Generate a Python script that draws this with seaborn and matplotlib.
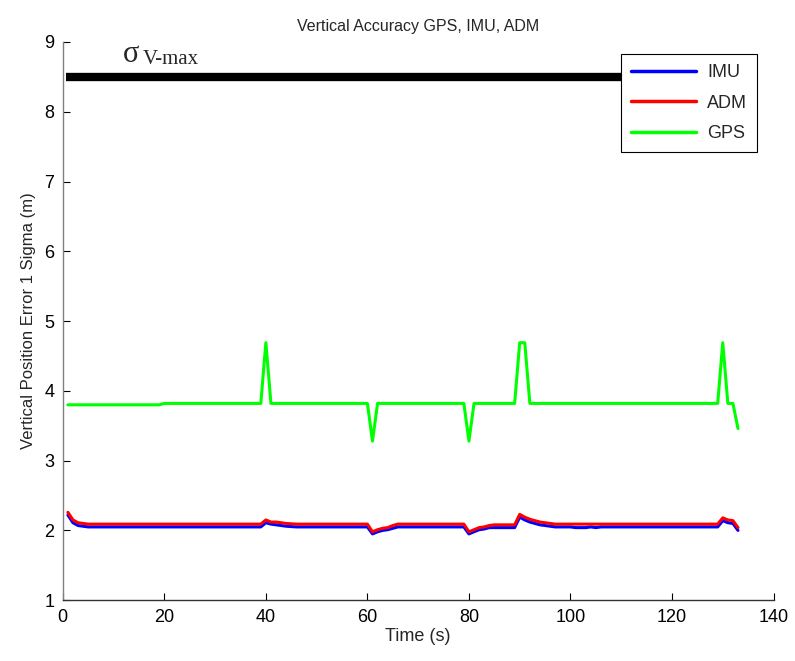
import matplotlib
matplotlib.use("Agg")
import matplotlib.pyplot as plt
import seaborn as sns
import pandas as pd

# ---- data ----
gps_t = [1, 19, 20, 39, 40, 41, 60, 61, 62, 79, 80, 81, 89, 90, 91, 92, 129, 130, 131, 132, 133]
gps_v = [3.80, 3.80, 3.82, 3.82, 4.69, 3.82, 3.82, 3.28, 3.82, 3.82, 3.28, 3.82, 3.82, 4.69, 4.69, 3.82,
         3.82, 4.69, 3.82, 3.82, 3.46]

adm_t = [1, 2, 3, 4, 5, 39, 40, 41, 42, 43, 44, 46, 60, 61, 62, 63, 64, 65, 66, 79, 80, 81, 82, 83, 84, 85,
         89, 90, 91, 92, 93, 94, 95, 97, 129, 130, 131, 132, 133]
adm_v = [2.26, 2.15, 2.11, 2.10, 2.09, 2.09, 2.15, 2.12, 2.12, 2.11, 2.10, 2.09, 2.09, 1.98, 2.01, 2.03, 2.04,
         2.07, 2.09, 2.09, 1.98, 2.01, 2.04, 2.05, 2.07, 2.08, 2.08, 2.23, 2.19, 2.16, 2.14, 2.12, 2.11, 2.09,
         2.09, 2.18, 2.15, 2.14, 2.04]

imu_t = [1, 2, 3, 4, 5, 39, 40, 41, 42, 43, 44, 46, 60, 61, 62, 63, 64, 65, 66, 79, 80, 81, 82, 83, 84, 85,
         89, 90, 91, 92, 93, 94, 95, 97, 100, 101, 103, 104, 105, 106, 129, 130, 131, 132, 133]
imu_v = [2.22, 2.11, 2.07, 2.06, 2.05, 2.05, 2.11, 2.09, 2.08, 2.07, 2.06, 2.05, 2.05, 1.95, 1.98, 2.00, 2.01,
         2.03, 2.05, 2.05, 1.95, 1.98, 2.01, 2.02, 2.04, 2.04, 2.04, 2.19, 2.15, 2.12, 2.10, 2.08, 2.07, 2.05,
         2.05, 2.04, 2.04, 2.05, 2.04, 2.05, 2.05, 2.14, 2.11, 2.10, 2.00]

limit_t = [0.6, 133]
limit_v = [8.5, 8.5]

series_names = ["IMU", "ADM", "GPS"]
series_colors = ["#0000ff", "#ff0000", "#00ff00"]

xticks = [0, 20, 40, 60, 80, 100, 120, 140]
yticks = [1, 2, 3, 4, 5, 6, 7, 8, 9]

# ---- build frames ----
df = pd.concat([
    pd.DataFrame({"t": imu_t, "v": imu_v, "s": "IMU"}),
    pd.DataFrame({"t": adm_t, "v": adm_v, "s": "ADM"}),
    pd.DataFrame({"t": gps_t, "v": gps_v, "s": "GPS"}),
], ignore_index=True)
lim_df = pd.DataFrame({"t": limit_t, "v": limit_v})

sns.set_style("white")
plt.rcParams["font.family"] = ["Liberation Sans", "DejaVu Sans"]

fig = plt.figure(figsize=(7.95, 6.61), dpi=100)
ax = fig.add_axes([0.079, 0.092, 0.894, 0.8445])

sns.lineplot(data=lim_df, x="t", y="v", color="black", linewidth=6, ax=ax, legend=False,
             estimator=None, sort=False, solid_capstyle="butt")
sns.lineplot(data=df, x="t", y="v", hue="s", hue_order=series_names,
             palette=dict(zip(series_names, series_colors)), linewidth=2.2, ax=ax,
             estimator=None, sort=False)

ax.set_xlim(0, 140)
ax.set_ylim(1, 9)
ax.set_xticks(xticks)
ax.set_yticks(yticks)
ax.tick_params(bottom=True, left=True, direction="in", length=5, width=0.8, labelsize=13,
               colors="black", pad=6)
for side in ["top", "right"]:
    ax.spines[side].set_visible(False)
ax.spines["left"].set_color("#808080")
ax.spines["bottom"].set_color("#333333")
ax.spines["left"].set_linewidth(1.0)
ax.spines["bottom"].set_linewidth(1.0)

ax.set_xlabel("Time (s)", fontsize=13, labelpad=2)
ax.set_ylabel("Vertical Position Error 1 Sigma (m)", fontsize=12, labelpad=6)
ax.set_title("Vertical Accuracy GPS, IMU, ADM", fontsize=11.5, pad=8)

# sigma label
ax.text(11.9, 8.72, "σ", fontsize=22, family=["Liberation Serif", "DejaVu Serif"], ha="left", va="baseline")
ax.text(15.7, 8.69, "V-max", fontsize=15, family=["Liberation Serif", "DejaVu Serif"], ha="left", va="baseline")

leg = ax.legend(loc="upper right", bbox_to_anchor=(0.977, 0.978), fontsize=13, frameon=True,
                fancybox=False, edgecolor="black", framealpha=1, handlelength=3.6,
                borderpad=0.55, labelspacing=0.75, handletextpad=0.6, borderaxespad=0)
leg.get_frame().set_linewidth(0.8)
leg.set_zorder(10)
for line in leg.get_lines():
    line.set_linewidth(2.5)

fig.savefig("out.png", dpi=100)
